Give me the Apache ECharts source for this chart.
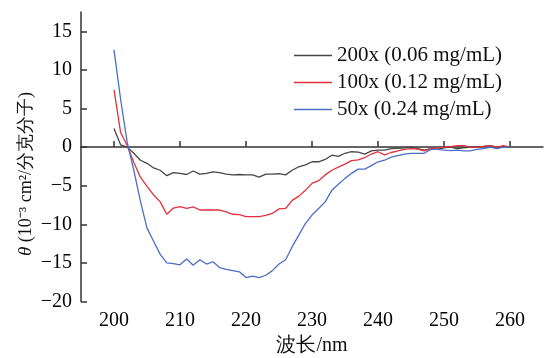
<!DOCTYPE html>
<html>
<head>
<meta charset="utf-8">
<script src="https://cdn.jsdelivr.net/npm/echarts@6/dist/echarts.min.js"></script>
<style>html,body{margin:0;padding:0;background:#fff}#c{width:544px;height:358px}</style>
</head>
<body>
<div id="c"></div>
<script>
// wavelength (nm)
const wavelengths = [200,201,202,203,204,205,206,207,208,209,210,211,212,213,214,215,216,217,218,219,220,221,222,223,224,225,226,227,228,229,230,231,232,233,234,235,236,237,238,239,240,241,242,243,244,245,246,247,248,249,250,251,252,253,254,255,256,257,258,259,260];
const seriesNames = ['200x (0.06 mg/mL)', '100x (0.12 mg/mL)', '50x (0.24 mg/mL)'];
const theta200x = [2.4,0.3,0.0,-0.8,-1.7,-2.1,-2.7,-3.0,-3.7,-3.3,-3.4,-3.55,-3.1,-3.5,-3.4,-3.2,-3.3,-3.5,-3.6,-3.55,-3.6,-3.6,-3.9,-3.5,-3.5,-3.45,-3.6,-3.0,-2.55,-2.3,-1.9,-1.9,-1.6,-1.05,-1.2,-0.8,-0.6,-0.65,-0.9,-0.5,-0.4,-0.4,-0.2,-0.15,-0.1,0,-0.2,-0.4,-0.2,-0.25,-0.1,0,-0.2,-0.1,0,0.05,0.1,0.2,0,0.05,0];
const theta100x = [7.4,1.9,0.2,-2.0,-3.9,-5.1,-6.2,-7.1,-8.7,-7.9,-7.7,-7.95,-7.75,-8.15,-8.15,-8.15,-8.15,-8.4,-8.7,-8.75,-9.0,-9.0,-9.0,-8.85,-8.6,-8.0,-7.95,-6.9,-6.35,-5.6,-4.7,-4.35,-3.6,-3.0,-2.6,-2.2,-1.75,-1.65,-1.35,-0.9,-0.6,-1.0,-0.7,-0.5,-0.3,-0.2,-0.25,-0.5,-0.2,-0.1,0,0.05,0.2,0.2,0,0,0.1,0.2,0,0.2,0];
const theta50x = [12.6,6.2,0.6,-3.0,-7.0,-10.5,-12.2,-13.9,-15.0,-15.1,-15.25,-14.5,-15.3,-14.6,-15.15,-14.85,-15.6,-15.85,-16.0,-16.15,-16.9,-16.7,-16.9,-16.6,-16.0,-15.15,-14.6,-12.9,-11.4,-9.9,-8.8,-7.95,-7.1,-5.6,-4.8,-4.05,-3.4,-2.85,-2.85,-2.4,-1.9,-1.7,-1.3,-1.1,-0.9,-0.8,-0.8,-0.8,-0.3,-0.3,-0.4,-0.45,-0.4,-0.5,-0.5,-0.3,-0.2,0,-0.2,0,0];
const xTicks = [200,210,220,230,240,250,260];
const yTicks = [-20,-15,-10,-5,0,5,10,15];
const colors = ['#474747', '#e2313d', '#4a6fc6'];

const serif = 'Liberation Serif';
const chart = echarts.init(document.getElementById('c'), null, {renderer: 'canvas'});
const values = [theta200x, theta100x, theta50x];
const axisColor = '#333';
chart.setOption({
  animation: false,
  backgroundColor: '#fff',
  textStyle: {fontFamily: serif},
  grid: {left: 81, right: 1, top: 12, bottom: 56.5, containLabel: false, outerBoundsMode: 'none'},
  legend: {
    data: seriesNames.map((n, k) => ({name: n, icon: 'rect', itemStyle: {color: colors[k]}})),
    orient: 'vertical',
    left: 289, top: 40,
    itemWidth: 38, itemHeight: 1.5, itemGap: 6,
    textStyle: {fontFamily: serif, fontSize: 21, color: '#111', lineHeight: 20}
  },
  xAxis: {
    type: 'value', min: 195, max: 265,
    name: '波长/nm', nameLocation: 'middle', nameGap: 34,
    nameTextStyle: {fontFamily: serif, fontSize: 20, color: '#111'},
    axisLine: {lineStyle: {color: axisColor, width: 1.5}},
    axisTick: {inside: true, length: 6, lineStyle: {color: axisColor, width: 1.5}, customValues: xTicks},
    axisLabel: {customValues: xTicks, margin: 9, fontFamily: serif, fontSize: 20, color: '#000'},
    splitLine: {show: false}
  },
  yAxis: {
    type: 'value', min: -20, max: 17.5,
    axisLine: {show: true, lineStyle: {color: axisColor, width: 1.5}},
    axisTick: {show: true, inside: true, length: 6, lineStyle: {color: axisColor, width: 1.5}, customValues: yTicks},
    axisLabel: {customValues: yTicks, margin: 9, fontFamily: serif, fontSize: 20, color: '#000',
      formatter: v => (v < 0 ? '\u2212' + Math.abs(v) : String(v))},
    splitLine: {show: false}
  },
  graphic: [{
    type: 'text', x: 26, y: 174, rotation: Math.PI / 2,
    style: {
      text: '{i|θ} (10⁻³ cm²/分克分子)',
      align: 'center', verticalAlign: 'middle',
      fontFamily: serif, fontSize: 18, fill: '#111',
      rich: {i: {fontStyle: 'italic', fontFamily: serif, fontSize: 19, fill: '#111'}}
    }
  }],
  series: seriesNames.map((n, k) => ({
    name: n, type: 'line', showSymbol: false, symbol: 'none',
    data: wavelengths.map((w, i) => [w, values[k][i]]),
    lineStyle: {color: colors[k], width: 1.3},
    itemStyle: {color: colors[k]}
  }))
});
</script>
</body>
</html>
